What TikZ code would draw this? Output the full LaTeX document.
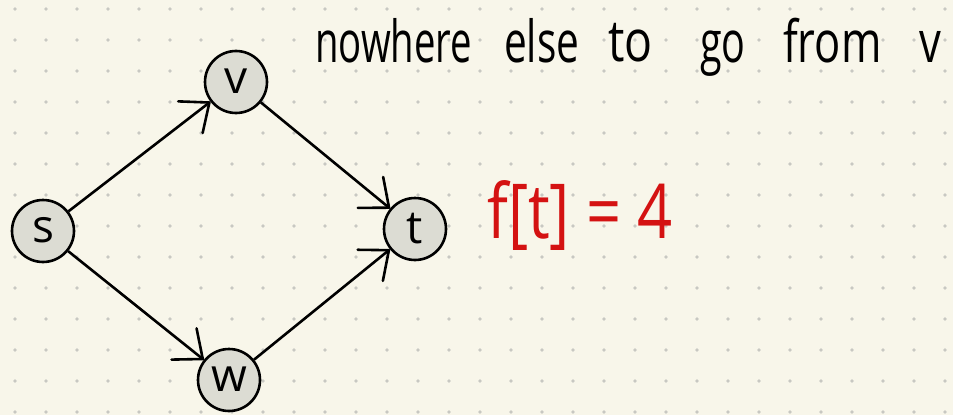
\documentclass[tikz,border=0pt]{standalone}
\usepackage{fontspec}
\setmainfont{Open Sans}
\usetikzlibrary{arrows.meta}
\definecolor{paper}{RGB}{248,246,234}
\definecolor{dotc}{RGB}{200,200,194}
\definecolor{nodefill}{RGB}{220,220,211}
\definecolor{inkred}{RGB}{212,18,18}
\tikzset{handtip/.tip={Straight Barb[length=24pt,width=40pt,line width=2.6pt,round]}}
\begin{document}
\begin{tikzpicture}[x=1pt,y=-1pt,
  vert/.style={circle,draw=black,line width=2.6pt,fill=nodefill,minimum size=62pt,inner sep=0pt,font=\fontsize{46}{46}\selectfont},
  edge/.style={line width=2.6pt,-handtip},
  word/.style={anchor=base west,inner sep=0pt,font=\fontsize{58}{58}\selectfont}]
\fill[paper] (0,0) rectangle (953,415);
\useasboundingbox (0,0) rectangle (953,415);
\foreach \i in {0,...,30}{\foreach \j in {0,...,13}{
  \fill[dotc] (15+31*\i,9+31*\j) circle (1.8pt);}}
\node[vert] (s) at (43,231) {\raisebox{2pt}{s}};
\node[vert] (v) at (236,82) {\raisebox{2pt}{v}};
\node[vert] (t) at (415,229) {t};
\node[vert] (w) at (229,380) {\raisebox{2pt}{w}};
\draw[edge] (s) -- (v);
\draw[edge] (v) -- (t);
\draw[edge] (s) -- (w);
\draw[edge] (w) -- (t);
\node[word] (n1) at (315,62) {\scalebox{0.66}[1]{nowhere}};
\node[word] (n2) at (504,62) {\scalebox{0.7}[1]{else}};
\node[word] (n3) at (608,61) {\scalebox{0.8}[1]{to}};
\node[word] (n4) at (700,62) {\scalebox{0.68}[1]{go}};
\node[word] (n5) at (783,62) {\scalebox{0.75}[1]{from}};
\node[word] (n6) at (919,62) {\scalebox{0.75}[1]{v}};
\node[anchor=west,inner sep=0pt,text=inkred] (ft) at (487,215) {\resizebox{185pt}{58pt}{\fontsize{40}{40}\selectfont f[t] = 4}};
\end{tikzpicture}
\end{document}
